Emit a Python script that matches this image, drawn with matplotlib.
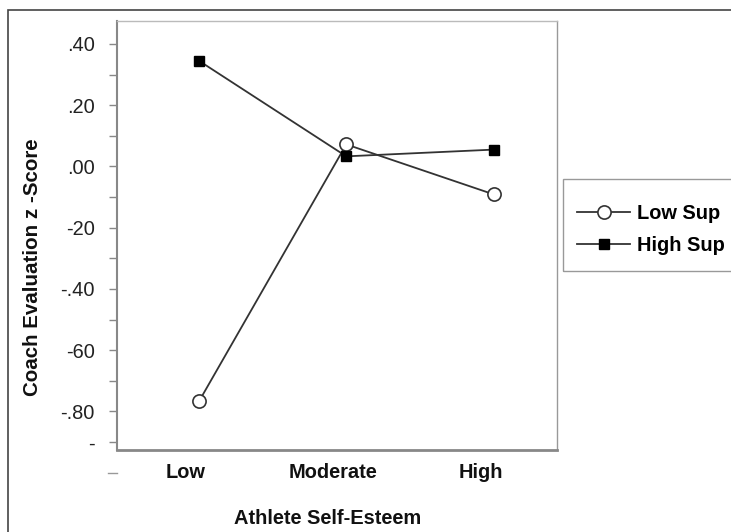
import matplotlib
matplotlib.use("Agg")
import matplotlib.pyplot as plt
import matplotlib.transforms as mtransforms
from matplotlib.patches import Rectangle

# ---- data ----
categories = ["Low", "Moderate", "High"]
low_sup = [-0.767, 0.072, -0.091]
high_sup = [0.345, 0.033, 0.055]
series_names = ["Low Sup", "High Sup"]
y_ticks = [0.4, 0.3, 0.2, 0.1, 0.0, -0.1, -0.2, -0.3, -0.4, -0.5, -0.6, -0.7, -0.8, -0.9]
y_tick_labels = [".40", "", ".20", "", ".00", "", "-20", "", "-.40", "", "-60", "", "-.80", "-"]
x_label = "Athlete Self-Esteem"
y_label = "Coach Evaluation z -Score"

plt.rcParams["font.family"] = ["Liberation Sans", "DejaVu Sans"]
FS = 14.4

W, H = 731, 532
fig = plt.figure(figsize=(W / 100, H / 100), dpi=100)
fig.patch.set_facecolor("white")

ax = fig.add_axes([117 / W, 1 - 450 / H, 440 / W, 429 / H])
x = list(range(len(categories)))

ax.plot(x, low_sup, color="#333333", lw=1.3, marker="o", markersize=9.5,
        markerfacecolor="white", markeredgecolor="#333333", markeredgewidth=1.2,
        label=series_names[0], zorder=3)
ax.plot(x, high_sup, color="#333333", lw=1.3, marker="s", markersize=7.2,
        markerfacecolor="black", markeredgecolor="black",
        label=series_names[1], zorder=3)

ax.set_xlim(-0.557, 2.431)
ax.set_ylim(-0.926, 0.475)

ax.set_yticks(y_ticks)
ax.set_yticklabels(y_tick_labels)
ax.tick_params(axis="y", direction="out", length=6, width=1, color="#888888",
               pad=10, labelsize=FS, labelcolor="#222222")

ax.set_xticks(x)
ax.set_xticklabels(categories, fontweight="bold")
ax.tick_params(axis="x", length=0, pad=9, labelsize=FS, labelcolor="#111111")
offset = mtransforms.ScaledTranslation(-13 / 100, 0, fig.dpi_scale_trans)
for lbl in ax.get_xticklabels():
    lbl.set_transform(lbl.get_transform() + offset)

# stray tick mark below the axis (at -1.0)
trans = mtransforms.blended_transform_factory(ax.transAxes, ax.transData)
ax.plot([-9 / 440, 0], [-1.0, -1.0], transform=trans, color="#999999",
        lw=1, clip_on=False)

ax.spines["left"].set_color("#888888")
ax.spines["left"].set_linewidth(1.5)
ax.spines["bottom"].set_color("#888888")
ax.spines["bottom"].set_linewidth(2)
ax.spines["top"].set_color("#bbbbbb")
ax.spines["top"].set_linewidth(1)
ax.spines["right"].set_color("#999999")
ax.spines["right"].set_linewidth(1)

fig.text(33 / W, 1 - 267 / H, y_label, rotation=90, ha="center", va="center",
         fontsize=FS + 0.4, fontweight="bold", color="#111111")
fig.text(328 / W, 1 - 519 / H, x_label, ha="center", va="center",
         fontsize=FS, fontweight="bold", color="#111111")

leg = fig.legend(loc="upper left", bbox_to_anchor=(577 / W, 1 - 203.5 / H),
                 borderaxespad=0, frameon=False,
                 prop={"size": FS, "weight": "bold"}, handlelength=2.65,
                 handletextpad=0.35, borderpad=0, labelspacing=0.65)

# legend box
fig.patches.append(Rectangle((563 / W, 1 - 271 / H), 185 / W, 92 / H,
                             transform=fig.transFigure, fill=False,
                             edgecolor="#999999", lw=1))

# outer frame
fig.patches.append(Rectangle((8 / W, -0.1), 1.2, 1.1 - 10 / H,
                             transform=fig.transFigure, fill=False,
                             edgecolor="#444444", lw=1.2))

fig.savefig("out.png", dpi=100)
